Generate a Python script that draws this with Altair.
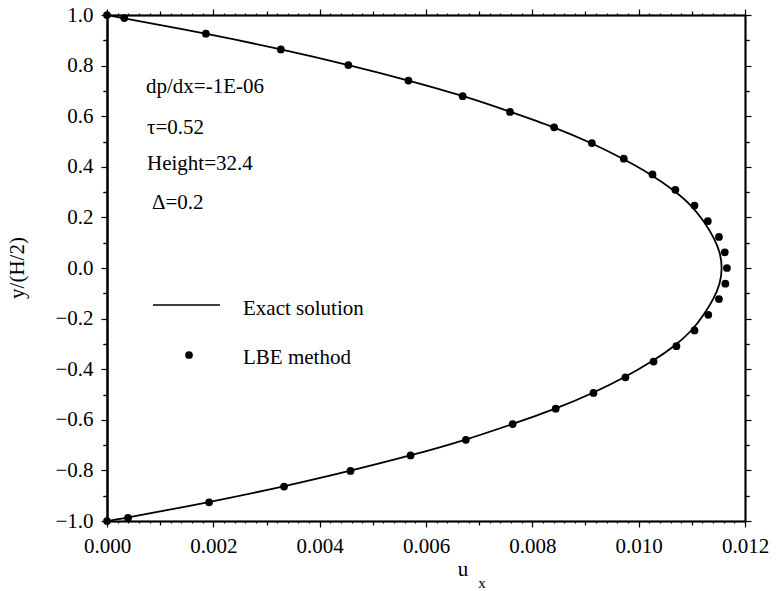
import altair as alt
import pandas as pd

# LBE method points
lbe_y = [1.0, 0.988, 0.926, 0.864, 0.802, 0.741, 0.679, 0.617, 0.556, 0.494, 0.432,
         0.370, 0.309, 0.247, 0.185, 0.123, 0.062, 0.0,
         -0.062, -0.123, -0.185, -0.247, -0.309, -0.370, -0.432, -0.494, -0.556,
         -0.617, -0.679, -0.741, -0.802, -0.864, -0.926, -0.988, -1.0]
lbe_u = [0.0, 0.000325, 0.00186, 0.00327, 0.00454, 0.00567, 0.00669, 0.00758, 0.00841,
         0.00912, 0.00972, 0.01026, 0.01069, 0.01105, 0.01130, 0.01151, 0.01162, 0.01166,
         0.01163, 0.01151, 0.01131, 0.01105, 0.01071, 0.01028, 0.00975, 0.00915, 0.00844,
         0.00763, 0.00675, 0.00571, 0.00458, 0.00333, 0.00192, 0.000395, 0.0]

# Exact solution curve
exact_y = [1.0, 0.988, 0.926, 0.864, 0.802, 0.741, 0.679, 0.617, 0.556, 0.494, 0.432,
           0.370, 0.309, 0.247, 0.185, 0.123, 0.062, 0.0,
           -0.062, -0.123, -0.185, -0.247, -0.309, -0.370, -0.432, -0.494, -0.556,
           -0.617, -0.679, -0.741, -0.802, -0.864, -0.926, -0.988, -1.0]
exact_u = [0.0, 0.00030, 0.00185, 0.00327, 0.00454, 0.00567, 0.00670, 0.00759, 0.00840,
           0.00910, 0.00970, 0.01022, 0.01064, 0.01098, 0.01122, 0.01140, 0.01152, 0.01156,
           0.01152, 0.01140, 0.01122, 0.01099, 0.01066, 0.01024, 0.00973, 0.00913, 0.00843,
           0.00762, 0.00673, 0.00570, 0.00456, 0.00330, 0.00189, 0.00035, 0.0]

x_major = [0.0, 0.002, 0.004, 0.006, 0.008, 0.010, 0.012]
x_minor = [0.001, 0.003, 0.005, 0.007, 0.009, 0.011]
x_fine = [round(i * 0.0002, 4) for i in range(61)]
y_major = [-1.0, -0.8, -0.6, -0.4, -0.2, 0.0, 0.2, 0.4, 0.6, 0.8, 1.0]
y_minor = [-0.9, -0.7, -0.5, -0.3, -0.1, 0.1, 0.3, 0.5, 0.7, 0.9]

annotations = ["dp/dx=-1E-06", "τ=0.52", "Height=32.4", "Δ=0.2"]
legend_labels = ["Exact solution", "LBE method"]

FONT = "Liberation Serif"
FS = 21
L, T = 107, 15

lbe = pd.DataFrame({"u": lbe_u, "y": lbe_y})
exact = pd.DataFrame({"u": exact_u, "y": exact_y})

xs = alt.Scale(domain=[0, 0.012], nice=False, zero=False)
ys = alt.Scale(domain=[-1, 1], nice=False, zero=False)

def ax(orient, values, size, labels=False, fmt=None, width=1.5, pad=8):
    kw = dict(orient=orient, values=values, tickSize=size, labels=labels, title=None,
              grid=False, domainColor="black", tickColor="black", domainWidth=width,
              tickWidth=1.2, labelFont=FONT, labelFontSize=FS, labelColor="black",
              labelFlush=False, labelOverlap=False)
    if labels:
        kw["labelPadding"] = pad
        kw["format"] = fmt
    return alt.Axis(**kw)

base_line = alt.Chart(exact).mark_line(color="black", strokeWidth=1.8, interpolate="natural").encode(
    x=alt.X("u:Q", scale=xs, axis=ax("bottom", x_major, 6, True, ".3f", pad=8)),
    y=alt.Y("y:Q", scale=ys, axis=ax("left", y_major, 6, True, ".1f", 2.2, pad=8)),
    order=alt.Order("y:Q"),
)

pts = alt.Chart(lbe).mark_circle(color="black", opacity=1, size=60).encode(
    x=alt.X("u:Q", scale=xs, axis=ax("top", x_major, 6)),
    y=alt.Y("y:Q", scale=ys, axis=ax("right", y_major, 6)),
)

def axis_layer(xo, xv, xsize, yo, yv, ysize):
    return alt.Chart(lbe).mark_point(opacity=0).encode(
        x=alt.X("u:Q", scale=xs, axis=ax(xo, xv, xsize)),
        y=alt.Y("y:Q", scale=ys, axis=ax(yo, yv, ysize)),
    )

minor1 = axis_layer("bottom", x_minor, 4, "left", y_minor, 4)
minor2 = axis_layer("top", x_minor, 4, "right", y_minor, 4)
fine1 = axis_layer("bottom", x_fine, 2, "left", y_minor, 4)
fine2 = axis_layer("top", x_fine, 2, "right", y_minor, 4)

ann = pd.DataFrame({"t": annotations,
                    "px": [146 - L, 147 - L, 147 - L, 152 - L],
                    "py": [87 - T, 128 - T, 164 - T, 203 - T]})
ann_text = alt.Chart(ann).mark_text(font=FONT, fontSize=FS, align="left", baseline="middle",
                                    color="black").encode(
    x=alt.X("px:Q", scale=None, axis=None), y=alt.Y("py:Q", scale=None, axis=None), text="t:N")

leg = pd.DataFrame({"t": legend_labels, "py": [309 - T, 358 - T]})
leg_text = alt.Chart(leg).mark_text(font=FONT, fontSize=FS, align="left", baseline="middle",
                                    color="black").encode(
    x=alt.value(243 - L), y=alt.Y("py:Q", scale=None, axis=None), text="t:N")
leg_line = alt.Chart(pd.DataFrame({"a": [0]})).mark_rule(color="black", strokeWidth=1.5).encode(
    x=alt.value(153 - L), x2=alt.value(220 - L), y=alt.value(305 - T))
leg_dot = alt.Chart(pd.DataFrame({"a": [0]})).mark_circle(color="black", opacity=1, size=60).encode(
    x=alt.value(189 - L), y=alt.value(355 - T))

titles = pd.DataFrame({"t": ["u", "x"], "px": [463 - L, 482 - L], "py": [570 - T, 583 - T],
                       "fs": [FS, 15]})
ux = alt.Chart(titles).mark_text(font=FONT, align="center", baseline="middle", color="black").encode(
    x=alt.X("px:Q", scale=None, axis=None), y=alt.Y("py:Q", scale=None, axis=None), text="t:N",
    size=alt.Size("fs:Q", scale=None, legend=None))

ytitle = alt.Chart(pd.DataFrame({"t": ["y/(H/2)"]})).mark_text(
    font=FONT, fontSize=FS, angle=270, align="center", baseline="middle", color="black").encode(
    x=alt.value(18 - L), y=alt.value(268 - T), text="t:N")

chart = alt.layer(
    fine1, fine2, minor1, minor2, base_line, pts, ann_text, leg_line, leg_dot, leg_text, ux, ytitle
).resolve_axis(x="independent", y="independent").properties(
    width=638, height=506,
    padding={"left": L, "top": T, "right": 32, "bottom": 70},
    autosize=alt.AutoSizeParams(type="none"),
    background="white",
).configure_view(stroke=None)

chart.save("out.html", embed_options={"renderer": "svg", "actions": False})
